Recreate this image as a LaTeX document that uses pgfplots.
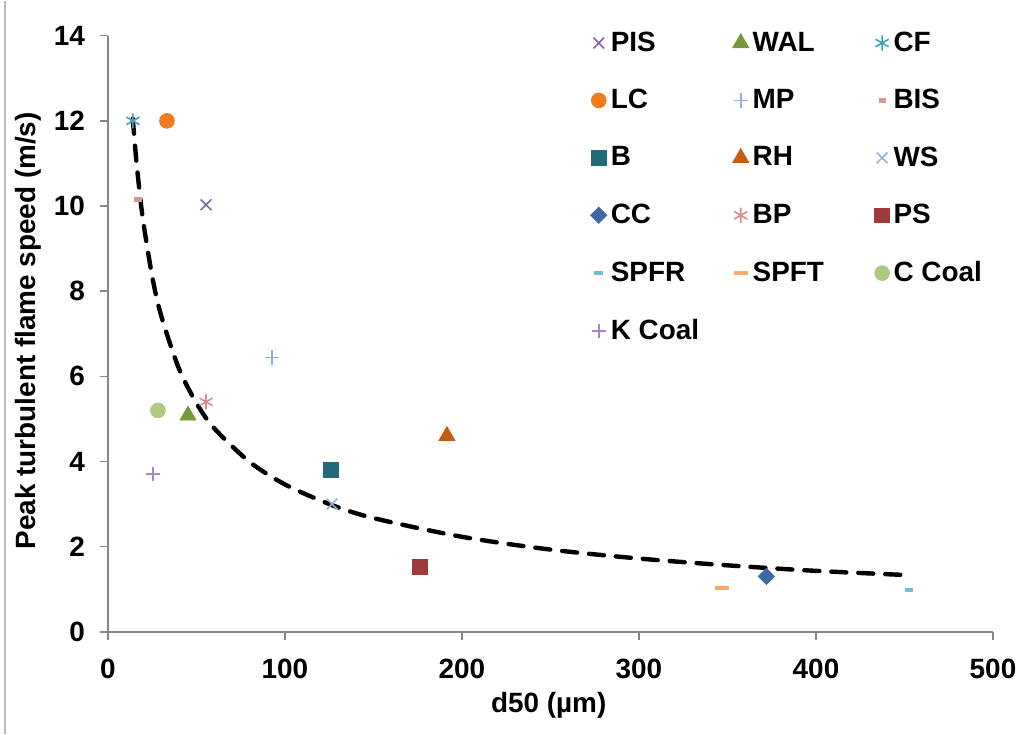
\documentclass[border=0pt]{standalone}
\usepackage{pgfplots}
\pgfplotsset{compat=1.18}
\usepackage{fontspec}
\setmainfont{Liberation Sans}

\definecolor{axgray}{HTML}{868686}
\definecolor{cPIS}{HTML}{7E67A2}
\definecolor{cWAL}{HTML}{77973C}
\definecolor{cCF}{HTML}{3FA3BC}
\definecolor{cLC}{HTML}{F47A1F}
\definecolor{cMP}{HTML}{8DB0E0}
\definecolor{cBIS}{HTML}{DA9694}
\definecolor{cB}{HTML}{22697A}
\definecolor{cRH}{HTML}{C55A11}
\definecolor{cWS}{HTML}{95B3D7}
\definecolor{cCC}{HTML}{3D6AA5}
\definecolor{cBP}{HTML}{D98C8C}
\definecolor{cPS}{HTML}{A0393A}
\definecolor{cSPFR}{HTML}{6DBFD8}
\definecolor{cSPFT}{HTML}{F9A86B}
\definecolor{cCCoal}{HTML}{ADCB7E}
\definecolor{cKCoal}{HTML}{9F87C4}

% fixed-width legend texts for the first two columns
\newcommand{\lbl}[1]{\makebox[59bp][l]{#1}}

\begin{document}
\begin{tikzpicture}
\begin{axis}[
    scale only axis,
    width=442.5bp, height=298bp,
    xmin=0, xmax=500, ymin=0, ymax=14,
    xtick={0,100,...,500},
    ytick={0,2,...,14},
    axis lines=left,
    axis line style={-, draw=axgray, line width=0.75bp},
    tick style={draw=axgray, line width=0.75bp},
    tick align=outside,
    major tick length=4bp,
    minor tick num=0,
    /pgf/number format/assume math mode=true,
    tick label style={font=\bfseries\fontsize{14}{16}\selectfont},
    yticklabel style={xshift=-4bp},
    xticklabel style={yshift=-6bp},
    label style={font=\bfseries\fontsize{14}{16}\selectfont},
    xlabel={d50 (µm)},
    ylabel={Peak turbulent flame speed (m/s)},
    xlabel style={at={(rel axis cs:0.498,-0.124)}, anchor=center},
    ylabel style={at={(rel axis cs:-0.090,0.505)}, anchor=center},
    clip=false,
    legend columns=3,
    legend style={
        draw=none, fill=none,
        at={(rel axis cs:0.545,1.014)}, anchor=north west,
        font=\bfseries\fontsize{14}{16}\selectfont,
        row sep=13.5bp, column sep=0bp,
        inner sep=0pt,
    },
    legend cell align={left},
    legend image code/.code={%
        \draw[mark repeat=2,mark phase=2,#1]
        plot coordinates {(0bp,0bp) (3bp,0bp) (8.5bp,0bp)};},
]

% frame line at the left edge of the picture
\draw[gray!55, line width=0.75bp] (rel axis cs:-0.1164,-0.1711) -- (rel axis cs:-0.1164,1.0587);
% fix the page size
\path (rel axis cs:-0.12203,-0.17114) rectangle (rel axis cs:1.03503,1.05872);

\addplot[only marks, mark=x, mark size=3.8bp, draw=cPIS, mark options={line width=0.8bp}]
    coordinates {(55.4,10.03)};
\addlegendentry{\lbl{PIS}}
\addplot[only marks, mark=triangle*, mark size=4.6bp, draw=cWAL, fill=cWAL]
    coordinates {(45.2,5.08)};
\addlegendentry{\lbl{WAL}}
\addplot[only marks, mark=asterisk, mark size=3.8bp, draw=cCF, mark options={line width=0.8bp}]
    coordinates {(14.1,12.0)};
\addlegendentry{CF}

\addplot[only marks, mark=*, mark size=3.7bp, draw=cLC, fill=cLC]
    coordinates {(33.3,12.0)};
\addlegendentry{\lbl{LC}}
\addplot[only marks, mark=+, mark size=3.6bp, draw=cMP, mark options={line width=0.8bp}]
    coordinates {(92.7,6.44)};
\addlegendentry{\lbl{MP}}
\addplot[only marks, mark=-, mark size=1.8bp, draw=cBIS, mark options={line width=2.2bp}]
    coordinates {(17.0,10.15)};
\addlegendentry{BIS}

\addplot[only marks, mark=square*, mark size=3.7bp, draw=cB, fill=cB]
    coordinates {(126.0,3.80)};
\addlegendentry{\lbl{B}}
\addplot[only marks, mark=triangle*, mark size=4.6bp, draw=cRH, fill=cRH]
    coordinates {(191.5,4.60)};
\addlegendentry{\lbl{RH}}
\addplot[only marks, mark=x, mark size=3.8bp, draw=cWS, mark options={line width=0.8bp}]
    coordinates {(126.6,3.00)};
\addlegendentry{WS}

\addplot[only marks, mark=square*, mark size=2.85bp, draw=cCC, fill=cCC, mark options={rotate=45}]
    coordinates {(372.0,1.30)};
\addlegendentry{\lbl{CC}}
\addplot[only marks, mark=asterisk, mark size=3.8bp, draw=cBP, mark options={line width=0.8bp}]
    coordinates {(55.4,5.40)};
\addlegendentry{\lbl{BP}}
\addplot[only marks, mark=square*, mark size=3.7bp, draw=cPS, fill=cPS]
    coordinates {(176.0,1.53)};
\addlegendentry{PS}

\addplot[only marks, mark=-, mark size=2.2bp, draw=cSPFR, mark options={line width=2.2bp}]
    coordinates {(452.5,0.98)};
\addlegendentry{\lbl{SPFR}}
\addplot[only marks, mark=-, mark size=3.4bp, draw=cSPFT, mark options={line width=2.2bp}]
    coordinates {(347.0,1.03)};
\addlegendentry{\lbl{SPFT}}
\addplot[only marks, mark=*, mark size=3.7bp, draw=cCCoal, fill=cCCoal]
    coordinates {(28.2,5.20)};
\addlegendentry{C Coal}

\addplot[only marks, mark=+, mark size=3.6bp, draw=cKCoal, mark options={line width=0.8bp}]
    coordinates {(25.4,3.71)};
\addlegendentry{\lbl{K Coal}}

% power-law trendline, points
\addplot[forget plot, black, line width=2.2bp, line cap=round,
         dash pattern=on 7.5bp off 6bp, smooth, tension=0.5] coordinates {
    (14,12.05) (16,11.07) (18,10.28) (20,9.61) (25,8.34) (30,7.43)
    (40,6.19) (50,5.37) (60,4.78) (80,3.99) (100,3.46) (125,3.00)
    (150,2.67) (200,2.23) (250,1.93) (300,1.72) (350,1.56) (400,1.43)
    (452,1.33)
};

\end{axis}
\end{tikzpicture}
\end{document}
